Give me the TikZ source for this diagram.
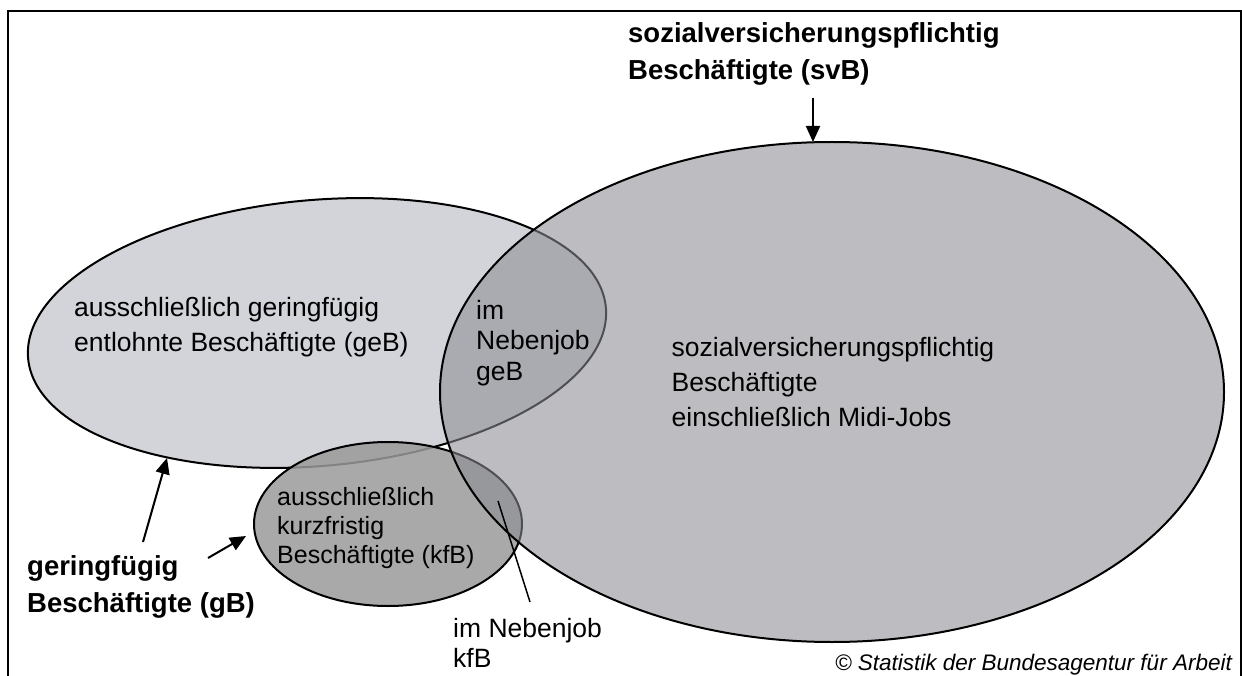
\documentclass[tikz,border=0pt]{standalone}
\usepackage{fontspec}
\setmainfont{Liberation Sans}
\usetikzlibrary{arrows.meta,shapes.geometric}
\definecolor{gebfill}{RGB}{211,212,217}
\definecolor{kfbfill}{RGB}{154,154,154}
\definecolor{svbfill}{RGB}{139,140,147}
\begin{document}
\begin{tikzpicture}[x=1pt,y=-1pt,
  setbox/.style={draw=black, line width=2pt, ellipse, inner sep=0pt, outer sep=0pt},
  txt/.style={font=\fontsize{26.5}{35}\selectfont, align=left, inner sep=0pt, anchor=base west},
  boldtxt/.style={font=\bfseries\fontsize{27.5}{37}\selectfont, align=left, inner sep=0pt, anchor=base west},
  arr/.style={line width=2pt, -{Triangle[length=16pt,width=14pt]}},
  pointer/.style={line width=1.5pt},
  frame/.style={line width=2pt},
]
\useasboundingbox (0,0) rectangle (1242,676);
\fill[white] (0,0) rectangle (1242,676);

% sets
\node[setbox, fill=gebfill, rotate=5, minimum width=580pt, minimum height=266pt] (geB) at (317,333) {};
\node[setbox, fill=kfbfill, fill opacity=0.85, minimum width=268pt, minimum height=164pt] (kfB) at (388,524) {};
\node[setbox, fill=svbfill, fill opacity=0.57, minimum width=784pt, minimum height=500pt] (svB) at (832,392) {};

% frame
\draw[frame] (7.7,676) -- (7.7,11) -- (1240.5,11) -- (1240.5,676);

% texts (anchored at the baseline of their last line)
\node[boldtxt] (svBtitle) at (628,80) {sozialversicherungspflichtig\\Beschäftigte (svB)};
\node[txt] (geBtext) at (74,351.5) {ausschließlich geringfügig\\entlohnte Beschäftigte (geB)};
\node[txt, font=\fontsize{26.5}{30.5}\selectfont] (njgeB) at (476,380) {im\\Nebenjob\\geB};
\node[txt] (svBtext) at (671.5,426.7) {sozialversicherungspflichtig\\Beschäftigte\\einschließlich Midi-Jobs};
\node[txt, font=\fontsize{25}{29}\selectfont] (kfBtext) at (277,563) {ausschließlich\\kurzfristig\\Beschäftigte (kfB)};
\node[boldtxt, font=\bfseries\fontsize{27.5}{37.5}\selectfont] (gBtitle) at (27,612.7) {geringfügig\\Beschäftigte (gB)};
\node[txt, font=\fontsize{26.5}{29.5}\selectfont] (njkfB) at (453,667) {im Nebenjob\\kfB};
\node[inner sep=0pt, anchor=base east, font=\itshape\fontsize{22.5}{27}\selectfont] (copy) at (1232,670) {© Statistik der Bundesagentur für Arbeit};

% arrows
\coordinate (svBtail) at (813,98);
\draw[arr] (svBtail) -- (svBtail |- svB.north);
\coordinate (g1s) at (143,542);
\coordinate (g1e) at (167,458);
\draw[arr] (g1s) -- (g1e);
\coordinate (g2s) at (208,558);
\coordinate (g2e) at (246,536);
\draw[arr] (g2s) -- (g2e);
\coordinate (k1) at (498,501);
\coordinate (k2) at (530,602);
\draw[pointer] (k1) -- (k2);
\end{tikzpicture}
\end{document}
